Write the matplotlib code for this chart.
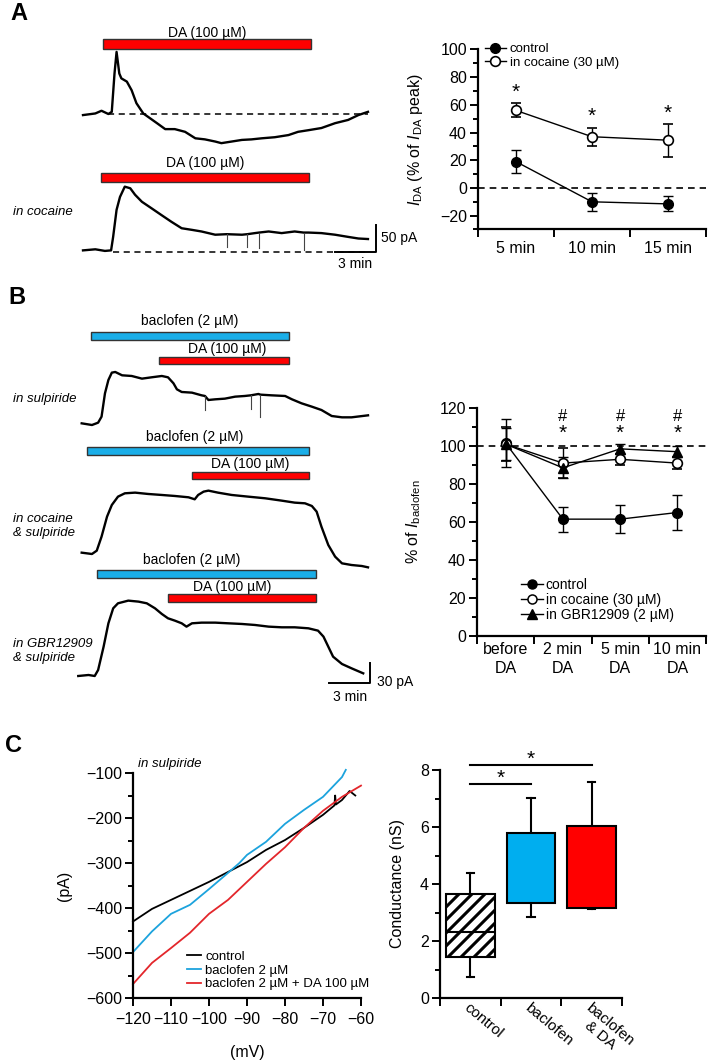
import numpy as np
import matplotlib.pyplot as plt
from matplotlib.lines import Line2D
from matplotlib.transforms import IdentityTransform

plt.rcParams['font.family'] = ['Liberation Sans', 'DejaVu Sans']
plt.rcParams['mathtext.fontset'] = 'custom'
plt.rcParams['mathtext.rm'] = 'Liberation Sans'
plt.rcParams['mathtext.it'] = 'Liberation Sans:italic'
plt.rcParams['mathtext.bf'] = 'Liberation Sans:bold'

W, H = 709, 1061
RED = '#ff0000'
BLUE = '#1aaee8'

# ---------------- data ----------------
# A: DA-evoked currents (min, pA above baseline)
a_ctrl_t = [0.0, 0.9, 1.35, 1.85, 2.1, 2.3, 2.45, 2.65, 2.8, 3.2, 3.55, 3.9, 4.4, 4.9, 5.4, 6.0, 6.7,
            7.45, 8.2, 8.9, 9.65, 10.1, 10.85, 11.6, 12.3, 13.05, 14.0, 15.0, 15.7, 16.45, 17.4,
            18.4, 19.35, 20.1, 20.8]
a_ctrl_i = [-2, 1, 6, 0, 4, 75, 115, 75, 66, 60, 44, 20, 1, -8, -17, -28, -28, -33, -45, -47, -51,
            -54, -51, -48, -47, -45, -43, -39, -33, -30, -26, -17, -11, -2, 4]
a_coc_t = [0.0, 0.9, 1.6, 2.05, 2.2, 2.45, 2.7, 3.05, 3.45, 3.8, 4.3, 5.0, 5.75, 6.45, 7.2, 7.95,
           8.65, 9.65, 10.5, 11.6, 12.0, 12.55, 12.85, 13.55, 14.5, 15.45, 16.1, 16.45, 17.4, 18.4,
           19.35, 20.1, 20.8]
a_coc_i = [3, 5, 2, 3, 28, 78, 102, 121, 118, 106, 93, 81, 68, 56, 44, 41, 38, 32, 33, 32, 33, 35,
           36, 38, 35, 38, 36, 36, 35, 32, 28, 25, 24]
# brief downward deflections: time, from, to
a_coc_spikes = [(10.5, 33, 9), (12.0, 33, 10), (12.85, 36, 7), (16.1, 36, 4)]
a_da_on = [1.46, 1.31]
a_da_off = [16.64, 16.5]

# A right: I_DA (% of peak)
a_times = ['5 min', '10 min', '15 min']
a_ctrl_mean = [19, -10, -11.5]
a_ctrl_sem = [8.5, 6.7, 5.4]
a_coc_mean = [56, 37, 34.5]
a_coc_sem = [5, 6.5, 12]
a_star_y = [69, 52, 54]

# B: baclofen currents (min, pA above baseline)
b_sul_t = [0.05, 0.8, 1.25, 1.5, 1.75, 2.0, 2.25, 2.5, 3.0, 3.7, 4.45, 5.15, 5.9, 6.35, 6.75, 7.0,
           7.35, 8.1, 8.8, 9.05, 9.3, 9.8, 10.5, 11.25, 11.95, 12.4, 12.95, 13.1, 13.9, 14.9, 15.4,
           16.1, 16.85, 17.55, 18.3, 19.05, 19.75, 20.95]
b_sul_i = [1, -1.5, 2, 11, 46, 66, 77, 78, 73, 72, 68, 70, 72, 70, 61, 52, 48, 47, 43, 42, 36, 37,
           38, 41, 42, 43, 45, 44, 43, 42, 37, 31, 26, 21, 12, 10, 10, 13]
b_sul_spikes = [(9.05, 42, 21), (12.4, 43, 22), (13.1, 44, 11)]
b_coc_t = [0.05, 0.8, 1.15, 1.5, 1.9, 2.25, 2.7, 3.2, 3.95, 4.9, 5.9, 6.85, 7.85, 8.3, 8.55, 8.95,
           9.3, 10.0, 11.0, 12.2, 13.45, 14.65, 15.6, 16.35, 16.85, 17.2, 17.55, 18.05, 18.55,
           19.05, 19.75, 20.5, 20.95]
b_coc_i = [0.5, -1.5, 3.5, 24.5, 54.5, 72, 84.5, 89.5, 90.5, 88.5, 87, 85.5, 83.5, 80.5, 87, 92,
           93.5, 90.5, 87, 84.5, 82, 78.5, 75.5, 74.5, 70.5, 62, 39.5, 12, -5.5, -15.5, -18, -19.5,
           -21.5]
b_gbr_t = [-0.2, 0.55, 1.0, 1.25, 1.65, 2.0, 2.35, 2.7, 3.45, 4.2, 4.8, 5.4, 5.9, 6.35, 6.85, 7.35,
           7.7, 8.1, 8.8, 9.8, 10.75, 11.75, 12.7, 13.7, 14.65, 15.6, 16.6, 17.3, 17.7, 18.05, 18.4,
           19.05, 19.75, 20.6]
b_gbr_i = [0, 1.5, 0, 9, 44, 79, 101.5, 109, 113, 111.5, 109, 101.5, 93, 86.5, 83, 79, 74, 79, 80,
           80, 79, 78, 76.5, 74, 73, 73, 71.5, 68, 59, 44, 29, 18, 11.5, 4]
b_bac_on = [0.73, 0.44, 1.17]
b_bac_off = [15.18, 16.64, 17.15]
b_da_on = [5.69, 8.1, 6.35]
b_da_off = [15.18, 16.64, 17.15]
b_conditions = ['in sulpiride', 'in cocaine\n& sulpiride', 'in GBR12909\n& sulpiride']

# B right: % of I_baclofen
b_times = ['before\nDA', '2 min\nDA', '5 min\nDA', '10 min\nDA']
b_ctrl_mean = [101.5, 61.5, 61.5, 65]
b_ctrl_sem = [12.5, 6.5, 7.5, 9]
b_coc_mean = [101, 91, 93, 91]
b_coc_sem = [9, 8, 3, 3]
b_gbr_mean = [101, 88.5, 98.5, 97]
b_gbr_sem = [8.5, 5.5, 2.5, 3]
b_hash_y = 115.5
b_star_y = 106.5

# C left: I-V curves
iv_ctrl_v = [-120, -115, -110, -105, -100, -95, -90, -85, -80, -75, -70, -67, -66.8, -66.6, -65, -63, -61.5]
iv_ctrl_i = [-430, -402, -382, -362, -342, -320, -298, -271, -249, -222, -193, -172, -150, -170, -160, -140, -150]
iv_bac_v = [-120, -115, -110, -105, -100, -95, -92, -90, -85, -80, -75, -70, -65, -64]
iv_bac_i = [-498, -452, -413, -393, -358, -322, -300, -282, -253, -213, -182, -153, -109, -93]
iv_da_v = [-120, -115, -110, -105, -100, -95, -90, -85, -80, -75, -70, -65, -60]
iv_da_i = [-569, -522, -489, -455, -413, -382, -342, -302, -265, -222, -184, -153, -128]

# C right: conductance box stats (nS)
g_labels = ['control', 'baclofen', 'baclofen\n& DA']
g_med = [2.32, 3.82, 3.82]
g_q1 = [1.44, 3.33, 3.16]
g_q3 = [3.65, 5.79, 6.04]
g_lo = [0.74, 2.84, 3.12]
g_hi = [4.39, 7.02, 7.58]
g_sig = [(0, 1, 7.5), (0, 2, 8.17)]

fig = plt.figure(figsize=(W / 100, H / 100), dpi=100)


def px_rect(x0, y0, x1, y1):
    return [x0 / W, 1 - y1 / H, (x1 - x0) / W, (y1 - y0) / H]


def fig_text(x, y, s, **kw):
    fig.text(x / W, 1 - y / H, s, **kw)


def style_axes(ax):
    for s in ['top', 'right']:
        ax.spines[s].set_visible(False)
    for s in ['left', 'bottom']:
        ax.spines[s].set_linewidth(1.6)
    ax.tick_params(which='both', direction='out', width=1.4, labelsize=11.5, pad=2)
    ax.tick_params(which='major', length=6)
    ax.tick_params(which='minor', length=3.5)


def category_x(ax, labels, pad):
    n = len(labels)
    ax.set_xlim(0, n)
    ax.set_xticks(np.arange(n + 1))
    ax.set_xticklabels([])
    ax.set_xticks(np.arange(n) + 0.5, minor=True)
    ax.set_xticklabels(labels, minor=True)
    ax.tick_params(axis='x', which='minor', length=0, pad=pad)


PX_MIN = 13.7


class Traces:
    def __init__(self, x0, y0, x1, y1, t0, ref, pxpa):
        self.t0, self.ref, self.pxpa = t0, ref, pxpa
        self.ax = fig.add_axes(px_rect(x0, y0, x1, y1))
        self.ax.set_xlim(self.t(x0), self.t(x1))
        self.ax.set_ylim(self.y(y1), self.y(y0))
        self.ax.axis('off')

    def t(self, xpx):
        return (xpx - self.t0) / PX_MIN

    def y(self, ypx):
        return (self.ref - ypx) / self.pxpa

    def trace(self, t, i, base, spikes=()):
        off = self.y(base)
        self.ax.plot(t, np.array(i) + off, color='black', lw=1.7)
        for ts, i0, i1 in spikes:
            self.ax.plot([ts, ts], [i0 + off, i1 + off], color='#444444', lw=0.8)

    def bar(self, on, off, ypx, hpx, color):
        self.ax.barh(self.y(ypx), off - on, left=on, height=hpx / self.pxpa,
                     color=color, edgecolor='#333333', lw=1)

    def label(self, t, ypx, s):
        self.ax.text(t, self.y(ypx), s, ha='center', va='center', fontsize=10)

    def scale(self, xpx, ypx, pa, pa_label, pa_xy, min_xy):
        tt, yy = self.t(xpx), self.y(ypx)
        self.ax.plot([tt - 3, tt, tt], [yy, yy, yy + pa], color='black', lw=1.4)
        fig_text(pa_xy[0], pa_xy[1], pa_label, ha='left', va='center', fontsize=10)
        fig_text(min_xy[0], min_xy[1], '3 min', ha='center', va='center', fontsize=10)


# ---------------- A left ----------------
A = Traces(0, 0, 420, 290, 83, 252, 0.54)
for t, i, base, dstart, sp in zip([a_ctrl_t, a_coc_t], [a_ctrl_i, a_coc_i], [114, 252], [108, 113],
                                  [(), a_coc_spikes]):
    A.ax.plot([A.t(dstart), A.t(368)], [A.y(base)] * 2, color='black', lw=1.1, dashes=(4, 3))
    A.trace(t, i, base, sp)
for on, off, ybar, ylab in zip(a_da_on, a_da_off, [44, 177.5], [33, 163]):
    A.bar(on, off, ybar, 9.5, RED)
    A.label((on + off) / 2, ylab, 'DA (100 µM)')
A.scale(376, 252, 50, '50 pA', (381, 238), (355, 264))
fig_text(13, 212, 'in cocaine', ha='left', va='center', fontsize=9.5, style='italic')
fig_text(10, 14, 'A', ha='left', va='center', fontsize=17, fontweight='bold')

# ---------------- A right ----------------
ax = fig.add_axes(px_rect(478, 49.5, 706, 229.5))
style_axes(ax)
category_x(ax, a_times, 8)
xc = np.arange(len(a_times)) + 0.5
ax.set_ylim(-30, 100)
ax.set_yticks(np.arange(-20, 101, 20))
ax.set_yticks(np.arange(-30, 101, 10), minor=True)
ax.axhline(0, color='black', lw=1.2, dashes=(4, 3))
ek = dict(fmt='-o', color='black', ms=7, lw=1, elinewidth=1, capsize=3.5, capthick=1)
ax.errorbar(xc, a_ctrl_mean, yerr=a_ctrl_sem, mfc='black', mec='black', **ek)
ax.errorbar(xc, a_coc_mean, yerr=a_coc_sem, mfc='white', mec='black', mew=1.2, **ek)
for x, y in zip(xc, a_star_y):
    ax.text(x, y, '*', ha='center', va='center', fontsize=15)
ax.set_ylabel(r'$I_{\mathrm{DA}}$ (% of $I_{\mathrm{DA}}$ peak)', fontsize=11.5)
ax.yaxis.set_label_coords(-0.232, 0.5)
h = [Line2D([], [], color='black', lw=1, marker='o', ms=7, mfc='black'),
     Line2D([], [], color='black', lw=1, marker='o', ms=7, mfc='white', mew=1.2)]
ax.legend(h, ['control', 'in cocaine (30 µM)'], loc='upper left', bbox_to_anchor=(0.03, 1.035),
          frameon=False, fontsize=9.5, handlelength=1.6, handletextpad=0.3, labelspacing=0.1,
          borderpad=0, borderaxespad=0)

# ---------------- B left ----------------
B = Traces(0, 300, 420, 705, 81, 676, 0.667)
for t, i, base, sp in zip([b_sul_t, b_coc_t, b_gbr_t], [b_sul_i, b_coc_i, b_gbr_i], [424, 553, 676],
                          [b_sul_spikes, (), ()]):
    B.trace(t, i, base, sp)
bac_y, da_y = [336, 451, 574], [360.5, 475.5, 598]
bac_lab = [(190, 321), (195, 437), (192, 560)]
da_lab = [(227, 349), (250, 464), (232, 587)]
for k in range(3):
    B.bar(b_bac_on[k], b_bac_off[k], bac_y[k], 8, BLUE)
    B.bar(b_da_on[k], b_da_off[k], da_y[k], 7.5, RED)
    B.label(B.t(bac_lab[k][0]), bac_lab[k][1], 'baclofen (2 µM)')
    B.label(B.t(da_lab[k][0]), da_lab[k][1], 'DA (100 µM)')
B.scale(370, 683, 30, '30 pA', (377, 682), (350, 697))
for s, y in zip(b_conditions, [399, 526, 651]):
    fig_text(13, y, s, ha='left', va='center', fontsize=9.5, style='italic', linespacing=1.2)
fig_text(8, 298, 'B', ha='left', va='center', fontsize=17, fontweight='bold')

# ---------------- B right ----------------
ax = fig.add_axes(px_rect(477, 408, 706, 636))
style_axes(ax)
category_x(ax, b_times, 4)
for lbl in ax.get_xticklabels(minor=True):
    lbl.set_linespacing(1.4)
xc = np.arange(len(b_times)) + 0.5
ax.set_ylim(0, 120)
ax.set_yticks(np.arange(0, 121, 20))
ax.set_yticks(np.arange(0, 121, 10), minor=True)
ax.axhline(100, color='black', lw=1.2, dashes=(4, 3))
ax.errorbar(xc, b_ctrl_mean, yerr=b_ctrl_sem, mfc='black', mec='black', **ek)
ax.errorbar(xc, b_coc_mean, yerr=b_coc_sem, mfc='white', mec='black', mew=1.2, **ek)
ax.errorbar(xc, b_gbr_mean, yerr=b_gbr_sem, fmt='-^', color='black', ms=7, lw=1, elinewidth=1,
            capsize=3.5, capthick=1, mfc='black')
for x in xc[1:]:
    ax.text(x, b_hash_y, '#', ha='center', va='center', fontsize=12)
    ax.text(x, b_star_y, '*', ha='center', va='center', fontsize=15)
ax.set_ylabel(r'% of $I_{\mathrm{baclofen}}$', fontsize=11.5)
ax.yaxis.set_label_coords(-0.236, 0.5)
h = [Line2D([], [], color='black', lw=1, marker='o', ms=6.5, mfc='black'),
     Line2D([], [], color='black', lw=1, marker='o', ms=6.5, mfc='white', mew=1.1),
     Line2D([], [], color='black', lw=1, marker='^', ms=6.5, mfc='black')]
ax.legend(h, ['control', 'in cocaine (30 µM)', 'in GBR12909 (2 µM)'], loc='lower left',
          bbox_to_anchor=(0.19, 0.06), frameon=False, fontsize=10, handlelength=1.6,
          handletextpad=0.2, labelspacing=0.1, borderpad=0, borderaxespad=0)

# ---------------- C left ----------------
ax = fig.add_axes(px_rect(133, 773, 361, 998))
style_axes(ax)
ax.set_xlim(-120, -60)
ax.set_ylim(-600, -100)
ax.set_xticks(np.arange(-120, -59, 10))
ax.set_yticks(np.arange(-600, -99, 100))
ax.set_yticks(np.arange(-600, -99, 50), minor=True)
ax.tick_params(axis='x', pad=4)
ax.plot(iv_ctrl_v, iv_ctrl_i, color='black', lw=1.3, label='control', clip_on=False)
ax.plot(iv_bac_v, iv_bac_i, color='#1ca3dd', lw=1.3, label='baclofen 2 µM', clip_on=False)
ax.plot(iv_da_v, iv_da_i, color='#e3262b', lw=1.3, label='baclofen 2 µM + DA 100 µM', clip_on=False)
ax.set_ylabel('(pA)', fontsize=11.5)
ax.yaxis.set_label_coords(-0.268, 0.5)
ax.set_xlabel('(mV)', fontsize=11.5)
ax.xaxis.set_label_coords(0.5, -0.21)
ax.text(0.02, 1.04, 'in sulpiride', transform=ax.transAxes, fontsize=9.5, style='italic',
        ha='left', va='center')
ax.legend(loc='lower left', bbox_to_anchor=(0.235, 0.035), frameon=False, fontsize=9.5,
          handlelength=1.1, handletextpad=0.3, labelspacing=0.1, borderpad=0, borderaxespad=0)
fig_text(5, 746, 'C', ha='left', va='center', fontsize=17, fontweight='bold')

# ---------------- C right ----------------
ax = fig.add_axes(px_rect(440, 770, 622, 998))
style_axes(ax)
category_x(ax, g_labels, 2)
for lbl in ax.get_xticklabels(minor=True):
    lbl.set_rotation(-40)
    lbl.set_ha('left')
    lbl.set_va('top')
    lbl.set_rotation_mode('anchor')
    lbl.set_multialignment('center')
    lbl.set_linespacing(0.95)
    lbl.set_fontsize(11)
ax.set_ylim(0, 8)
ax.set_yticks(np.arange(0, 9, 2))
ax.set_yticks(np.arange(0, 9, 1), minor=True)
stats = [dict(med=m, q1=a, q3=b, whislo=lo, whishi=hi, fliers=[])
         for m, a, b, lo, hi in zip(g_med, g_q1, g_q3, g_lo, g_hi)]
bp = ax.bxp(stats, positions=np.arange(3) + 0.5, widths=0.8, patch_artist=True, capwidths=0.12,
            boxprops=dict(lw=1.5, edgecolor='black'), medianprops=dict(color='black', lw=1.5),
            whiskerprops=dict(lw=1.5), capprops=dict(lw=1.5), manage_ticks=False)
for box, fc in zip(bp['boxes'], ['none', '#00aeef', RED]):
    box.set_facecolor(fc)
    box.set_zorder(3)
# diagonal hatching of the control box, clipped to the box outline
ctrl_box = bp['boxes'][0]
(bx0, by0), (bx1, by1) = ax.transData.transform(ctrl_box.get_path().get_extents().get_points())
span = by1 - by0
for c in np.arange(bx0 - span, bx1 + 13, 13):
    ln = Line2D([c, c + span], [by0, by1], color='black', lw=2.2, transform=IdentityTransform(),
                zorder=2)
    ax.add_line(ln)
    ln.set_clip_path(ctrl_box)
for i0, i1, y in g_sig:
    ax.plot([i0 + 0.5, i1 + 0.5], [y, y], color='black', lw=1.5, clip_on=False)
    ax.text((i0 + i1) / 2 + 0.5, y + 0.2, '*', ha='center', va='center', fontsize=15)
ax.set_ylabel('Conductance (nS)', fontsize=11.5)
ax.yaxis.set_label_coords(-0.19, 0.5)

fig.savefig('out.png', dpi=100)
